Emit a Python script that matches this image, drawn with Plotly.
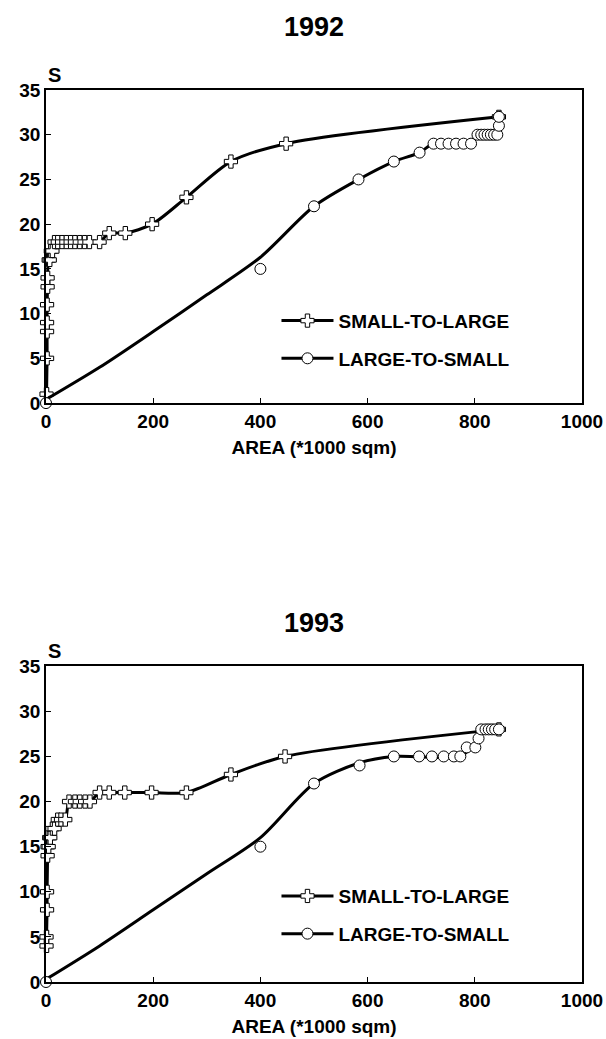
import plotly.graph_objects as go

# ---- data ----
# 1992
s2l_1992_x = [1, 2, 2, 2, 2, 3, 3, 5, 7, 9, 12, 16, 22, 30, 38, 46, 54, 63, 72, 81, 100, 118, 148, 198, 262, 345, 448, 845]
s2l_1992_y = [1, 5, 8, 9, 11, 13, 14, 16, 16, 17, 17, 18, 18, 18, 18, 18, 18, 18, 18, 18, 18, 19, 19, 20, 23, 27, 29, 32]
l2s_1992_x = [0, 400, 500, 583, 649, 697, 723, 737, 751, 765, 779, 793, 805, 812, 818, 824, 830, 836, 842, 845, 845]
l2s_1992_y = [0, 15, 22, 25, 27, 28, 29, 29, 29, 29, 29, 29, 30, 30, 30, 30, 30, 30, 30, 31, 32]
# smoothed curve drawn through the large-to-small points
l2s_1992_fit_x = [0, 100, 200, 300, 400, 500, 583, 649, 697, 723, 793, 805, 845, 845]
l2s_1992_fit_y = [0.4, 4.0, 8.0, 12.1, 16.3, 22.0, 25.0, 27.0, 28.0, 29.0, 29.0, 30.0, 30.0, 32.0]
# 1993
s2l_1993_x = [1, 1, 2, 2, 3, 3, 5, 6, 8, 12, 16, 22, 28, 36, 43, 54, 63, 73, 82, 100, 118, 147, 197, 262, 345, 446, 845]
s2l_1993_y = [4, 5, 8, 10, 14, 15, 15, 16, 16, 17, 17, 18, 18, 18, 20, 20, 20, 20, 20, 21, 21, 21, 21, 21, 23, 25, 28]
l2s_1993_x = [0, 400, 500, 585, 649, 696, 720, 742, 761, 773, 785, 801, 807, 812, 820, 826, 832, 838, 845]
l2s_1993_y = [0, 15, 22, 24, 25, 25, 25, 25, 25, 25, 26, 26, 27, 28, 28, 28, 28, 28, 28]
l2s_1993_fit_x = [0, 100, 200, 300, 400, 500, 585, 649, 773, 790, 805, 812, 845]
l2s_1993_fit_y = [0.3, 4.0, 8.0, 12.0, 16.0, 22.0, 24.3, 25.0, 25.0, 25.8, 26.8, 28.0, 28.0]

years = ["1992", "1993"]
series_names = ["SMALL-TO-LARGE", "LARGE-TO-SMALL"]
x_ticks = [0, 200, 400, 600, 800, 1000]
y_ticks = [0, 5, 10, 15, 20, 25, 30, 35]

FONT = "Liberation Sans"
LINE = dict(color="black", width=3, shape="spline", smoothing=0.8)
CROSS = dict(symbol="cross", size=11, color="white", line=dict(color="black", width=1))
CIRC = dict(symbol="circle", size=11, color="white", line=dict(color="black", width=1))

fig = go.Figure()

panels = [
    (s2l_1992_x, s2l_1992_y, l2s_1992_x, l2s_1992_y, l2s_1992_fit_x, l2s_1992_fit_y, "x", "y", "legend"),
    (s2l_1993_x, s2l_1993_y, l2s_1993_x, l2s_1993_y, l2s_1993_fit_x, l2s_1993_fit_y, "x2", "y2", "legend2"),
]
for sx, sy, lx, ly, fx, fy, xa, ya, lg in panels:
    fig.add_trace(go.Scatter(
        x=sx, y=sy, mode="lines+markers", name=series_names[0],
        xaxis=xa, yaxis=ya, legend=lg, legendgroup="a",
        line=LINE, marker=CROSS, cliponaxis=False,
    ))
    fig.add_trace(go.Scatter(
        x=fx, y=fy, mode="lines", showlegend=False,
        xaxis=xa, yaxis=ya, line=LINE, cliponaxis=False, hoverinfo="skip",
    ))
    fig.add_trace(go.Scatter(
        x=lx, y=ly, mode="markers", showlegend=False,
        xaxis=xa, yaxis=ya, marker=CIRC, cliponaxis=False,
    ))
    fig.add_trace(go.Scatter(
        x=[None], y=[None], mode="lines+markers", name=series_names[1],
        xaxis=xa, yaxis=ya, legend=lg, legendgroup="b",
        line=LINE, marker=CIRC,
    ))

axis_common = dict(
    showline=True, linecolor="black", linewidth=1.5, mirror=True,
    ticks="inside", ticklen=5, tickcolor="black", tickwidth=1,
    showgrid=False, zeroline=False, automargin=False,
    tickfont=dict(family=FONT, size=19, color="black", weight="bold"),
)
xcommon = dict(axis_common, range=[0, 1000], tickvals=x_ticks,
               title=dict(text="AREA (*1000 sqm)", standoff=10,
                          font=dict(family=FONT, size=19, color="black", weight="bold")))
ycommon = dict(axis_common, range=[0, 35], tickvals=y_ticks)

legend_common = dict(
    font=dict(family=FONT, size=19, color="black", weight="bold"),
    bgcolor="rgba(0,0,0,0)", xanchor="left", yanchor="middle",
    tracegroupgap=10, traceorder="grouped", itemwidth=52,
)

plot_h = 1039 - 90 - 57
def py(px):  # pixel row -> paper y
    return (1039 - 57 - px) / plot_h

fig.update_layout(
    width=606, height=1039,
    paper_bgcolor="white", plot_bgcolor="white",
    margin=dict(l=46, r=24, t=90, b=57),
    showlegend=True,
    xaxis=dict(xcommon, domain=[0, 1], anchor="y"),
    yaxis=dict(ycommon, domain=[0.649, 1], anchor="x"),
    xaxis2=dict(xcommon, domain=[0, 1], anchor="y2"),
    yaxis2=dict(ycommon, domain=[0, 0.354], anchor="x2"),
    legend=dict(legend_common, x=0.43, y=0.72),
    legend2=dict(legend_common, x=0.43, y=0.075),
    annotations=[
        dict(text=years[0], x=0.5, xref="paper", y=py(27), yref="paper",
             yanchor="middle", showarrow=False,
             font=dict(family=FONT, size=27, color="black", weight="bold")),
        dict(text=years[1], x=0.5, xref="paper", y=py(623), yref="paper",
             yanchor="middle", showarrow=False,
             font=dict(family=FONT, size=27, color="black", weight="bold")),
        dict(text="S", x=0.0, xref="paper", y=1.0, yref="paper",
             xanchor="left", yanchor="bottom", yshift=2, showarrow=False,
             font=dict(family=FONT, size=20, color="black", weight="bold")),
        dict(text="S", x=0.0, xref="paper", y=0.354, yref="paper",
             xanchor="left", yanchor="bottom", yshift=2, showarrow=False,
             font=dict(family=FONT, size=20, color="black", weight="bold")),
    ],
)

fig.write_html(
    "out.html",
    config={"displayModeBar": False},
    post_script="document.body.style.margin='0';document.body.style.overflow='hidden';",
)
